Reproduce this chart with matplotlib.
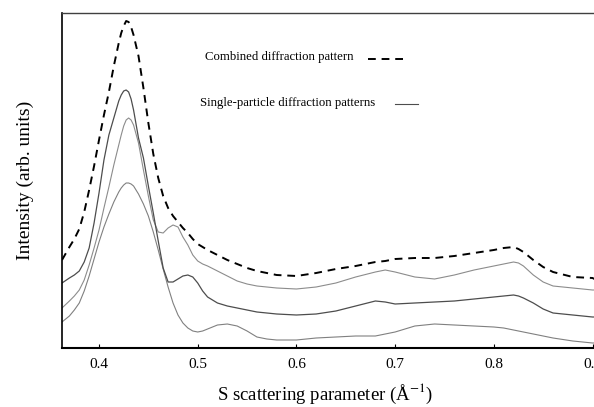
import matplotlib
matplotlib.use('Agg')
import matplotlib.pyplot as plt
from matplotlib.lines import Line2D

plt.rcParams['font.family'] = ['Liberation Serif', 'DejaVu Serif']
plt.rcParams['mathtext.fontset'] = 'stix'

# scattering parameter S (1/Angstrom)
s_vals = [0.3625, 0.37, 0.375, 0.38, 0.385, 0.39, 0.395, 0.40, 0.405, 0.41,
          0.415, 0.42, 0.4225, 0.425, 0.4275, 0.43, 0.4325, 0.435, 0.44, 0.445,
          0.45, 0.455, 0.46, 0.465, 0.47, 0.475, 0.48, 0.485, 0.49, 0.495,
          0.50, 0.505, 0.51, 0.52, 0.53, 0.54, 0.55, 0.56, 0.57, 0.58,
          0.60, 0.62, 0.64, 0.66, 0.68, 0.69, 0.70, 0.72, 0.74, 0.76,
          0.78, 0.80, 0.81, 0.82, 0.825, 0.83, 0.84, 0.85, 0.86, 0.88,
          0.90, 0.902]

# intensities, arbitrary units
combined = [88, 101, 109, 119, 136, 158, 182, 208, 233, 256,
            282, 305, 315, 322, 327, 326, 321, 313, 292, 260,
            225, 194, 170, 152, 140, 132, 126, 120, 115, 109,
            104, 101, 98, 93, 88, 84, 80, 77, 75, 73,
            72, 75, 79, 82, 86, 87, 89, 90, 90, 92,
            95, 98, 100, 101, 99, 96, 88, 81, 76, 71,
            70, 69]

particle_a = [65, 70, 73, 77, 86, 100, 125, 155, 188, 213,
              230, 247, 253, 257, 258, 256, 249, 238, 210, 190,
              162, 135, 107, 80, 66, 66, 69, 72, 73, 71,
              65, 57, 51, 45, 42, 40, 38, 36, 35, 34,
              33, 34, 37, 42, 47, 46, 44, 45, 46, 47,
              49, 51, 52, 53, 52, 50, 45, 39, 35, 33,
              31, 31]

particle_b = [40, 47, 52, 58, 68, 83, 100, 118, 140, 161,
              183, 203, 213, 222, 228, 230, 228, 223, 205, 178,
              152, 128, 116, 115, 120, 123, 121, 111, 103, 93,
              87, 84, 82, 77, 72, 67, 64, 62, 61, 60,
              59, 61, 65, 71, 76, 78, 76, 71, 69, 73,
              78, 82, 84, 86, 85, 82, 73, 66, 62, 60,
              58, 58]

particle_c = [26, 32, 38, 45, 57, 72, 89, 106, 121, 134,
              146, 156, 160, 163, 165, 165, 164, 162, 154, 144,
              132, 116, 98, 79, 61, 45, 33, 25, 20, 17,
              16, 17, 19, 23, 24, 22, 17, 11, 9, 8,
              8, 10, 11, 12, 12, 14, 16, 22, 24, 23,
              22, 21, 20, 18, 17, 16, 14, 12, 10, 7,
              5, 5]

x_ticks = [0.4, 0.5, 0.6, 0.7, 0.8, 0.9]

fig = plt.figure(figsize=(5.94, 4.07), dpi=100)
ax = fig.add_axes([62 / 594, 59 / 407, 532 / 594, 335 / 407])

ax.plot(s_vals, particle_c, color='0.5', lw=0.8)
ax.plot(s_vals, particle_b, color='0.55', lw=0.8)
ax.plot(s_vals, particle_a, color='0.3', lw=0.9)
ax.plot(s_vals, combined, color='black', lw=1.4, dashes=(4, 3))

ax.set_xlim(0.3625, 0.9015)
ax.set_ylim(0, 335)
ax.set_xticks(x_ticks)
ax.set_xticklabels([f'{t:.1f}' for t in x_ticks])
ax.set_yticks([])
ax.tick_params(axis='x', direction='in', length=3, width=0.8, pad=7,
               labelsize=11)

ax.spines['right'].set_visible(False)
ax.spines['top'].set_color('0.25')
ax.spines['top'].set_linewidth(1.0)
ax.spines['left'].set_linewidth(1.2)
ax.spines['bottom'].set_linewidth(1.5)

ax.set_xlabel('S scattering parameter (Å$^{-1}$)', fontsize=13.5)
ax.xaxis.set_label_coords(0.494, -0.100)
ax.set_ylabel('Intensity (arb. units)', fontsize=14)
ax.yaxis.set_label_coords(-0.052, 0.5)

# key, written as text with a short line sample after each entry
ax.text(0.269, 0.869, 'Combined diffraction pattern', transform=ax.transAxes,
        fontsize=9.2, va='center', ha='left')
ax.add_line(Line2D([0.575, 0.650], [0.863, 0.863], transform=ax.transAxes,
                   color='black', lw=1.4, dashes=(4, 3)))
ax.text(0.259, 0.731, 'Single-particle diffraction patterns',
        transform=ax.transAxes, fontsize=9.2, va='center', ha='left')
ax.add_line(Line2D([0.626, 0.669], [0.728, 0.728], transform=ax.transAxes,
                   color='0.3', lw=0.8))

fig.savefig('out.png', dpi=100)
